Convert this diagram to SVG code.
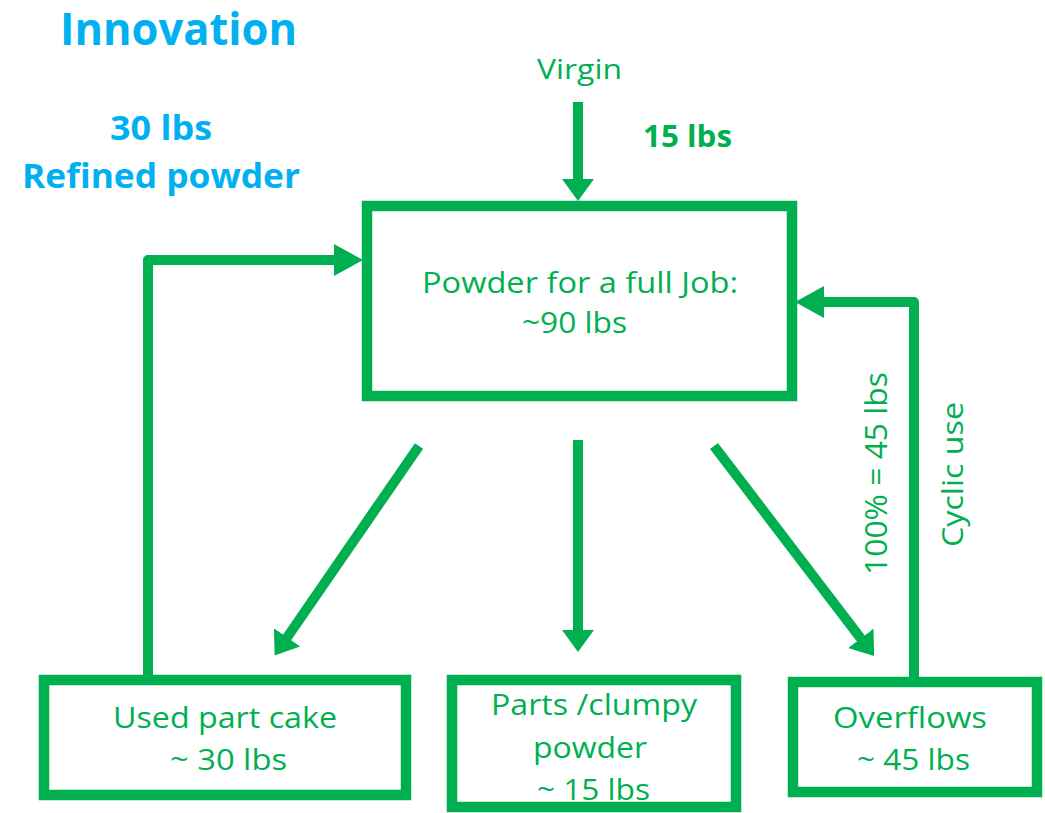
<svg xmlns="http://www.w3.org/2000/svg" width="1045" height="813" viewBox="0 0 1045 813">
<style>
.g{fill:#00B050;font-family:"Open Sans",Lato,sans-serif;}
.b{fill:#00B0F0;font-family:"Open Sans",Lato,sans-serif;font-weight:bold;}
.box{fill:none;stroke:#00B050;stroke-width:10.5;}
.ln{fill:none;stroke:#00B050;stroke-width:10;stroke-linejoin:round;}
text{text-anchor:middle;}
</style>
<defs>
<marker id="ah" markerUnits="userSpaceOnUse" markerWidth="26" markerHeight="34" refX="2" refY="16" orient="auto" viewBox="0 0 26 34">
<path d="M0,0 L22,16 L0,32 Z" fill="#00B050"/>
</marker>
<marker id="ahl" markerUnits="userSpaceOnUse" markerWidth="32" markerHeight="34" refX="2" refY="16" orient="auto" viewBox="0 0 32 34">
<path d="M0,0 L29,16 L0,32 Z" fill="#00B050"/>
</marker>
</defs>
<g id="title">
<text class="b" x="178.5" y="45" font-size="44" textLength="237" lengthAdjust="spacingAndGlyphs">Innovation</text>
</g>
<g id="refined">
<text class="b" x="161" y="140" font-size="34" textLength="102" lengthAdjust="spacingAndGlyphs">30 lbs</text>
<text class="b" x="161" y="188" font-size="34" textLength="278" lengthAdjust="spacingAndGlyphs">Refined powder</text>
</g>
<g id="virgin">
<text class="g" x="579.5" y="79" font-size="28" textLength="85" lengthAdjust="spacingAndGlyphs">Virgin</text>
<text class="g" x="687.5" y="147" font-size="31" font-weight="bold" textLength="89" lengthAdjust="spacingAndGlyphs">15 lbs</text>
</g>
<g id="main">
<rect class="box" x="367" y="206" width="425" height="190"/>
<text class="g" x="580" y="293" font-size="30" textLength="316" lengthAdjust="spacingAndGlyphs">Powder for a full Job:</text>
<text class="g" x="574.5" y="333" font-size="30" textLength="105" lengthAdjust="spacingAndGlyphs">~90 lbs</text>
</g>
<g id="used">
<rect class="box" x="44" y="680" width="362" height="115"/>
<text class="g" x="225" y="728" font-size="30" textLength="224" lengthAdjust="spacingAndGlyphs">Used part cake</text>
<text class="g" x="228.5" y="770" font-size="30" textLength="117" lengthAdjust="spacingAndGlyphs">~ 30 lbs</text>
</g>
<g id="parts">
<rect class="box" x="452" y="680" width="284" height="127"/>
<text class="g" x="594" y="715" font-size="30" textLength="206" lengthAdjust="spacingAndGlyphs">Parts /clumpy</text>
<text class="g" x="590" y="758" font-size="30" textLength="114" lengthAdjust="spacingAndGlyphs">powder</text>
<text class="g" x="593.5" y="800" font-size="30" textLength="113" lengthAdjust="spacingAndGlyphs">~ 15 lbs</text>
</g>
<g id="overflows">
<rect class="box" x="793" y="682" width="244" height="110"/>
<text class="g" x="910" y="728" font-size="30" textLength="154" lengthAdjust="spacingAndGlyphs">Overflows</text>
<text class="g" x="913.5" y="770" font-size="30" textLength="113" lengthAdjust="spacingAndGlyphs">~ 45 lbs</text>
</g>
<g id="connectors">
<line class="ln" x1="578" y1="102" x2="578" y2="181" marker-end="url(#ah)"/>
<polyline class="ln" points="148,676 148,260 336,260" marker-end="url(#ahl)"/>
<polyline class="ln" points="914,678 914,302 822,302" marker-end="url(#ahl)"/>
<line class="ln" x1="419" y1="446" x2="286" y2="639" marker-end="url(#ah)"/>
<line class="ln" x1="578" y1="440" x2="578" y2="632" marker-end="url(#ah)"/>
<line class="ln" x1="714" y1="446" x2="862" y2="640" marker-end="url(#ah)"/>
</g>
<g id="labels">
<text class="g" transform="translate(887,473.5) rotate(-90)" font-size="31" textLength="203" lengthAdjust="spacingAndGlyphs">100% = 45 lbs</text>
<text class="g" transform="translate(963,474.5) rotate(-90)" font-size="30" textLength="145" lengthAdjust="spacingAndGlyphs">Cyclic use</text>
</g>
</svg>
